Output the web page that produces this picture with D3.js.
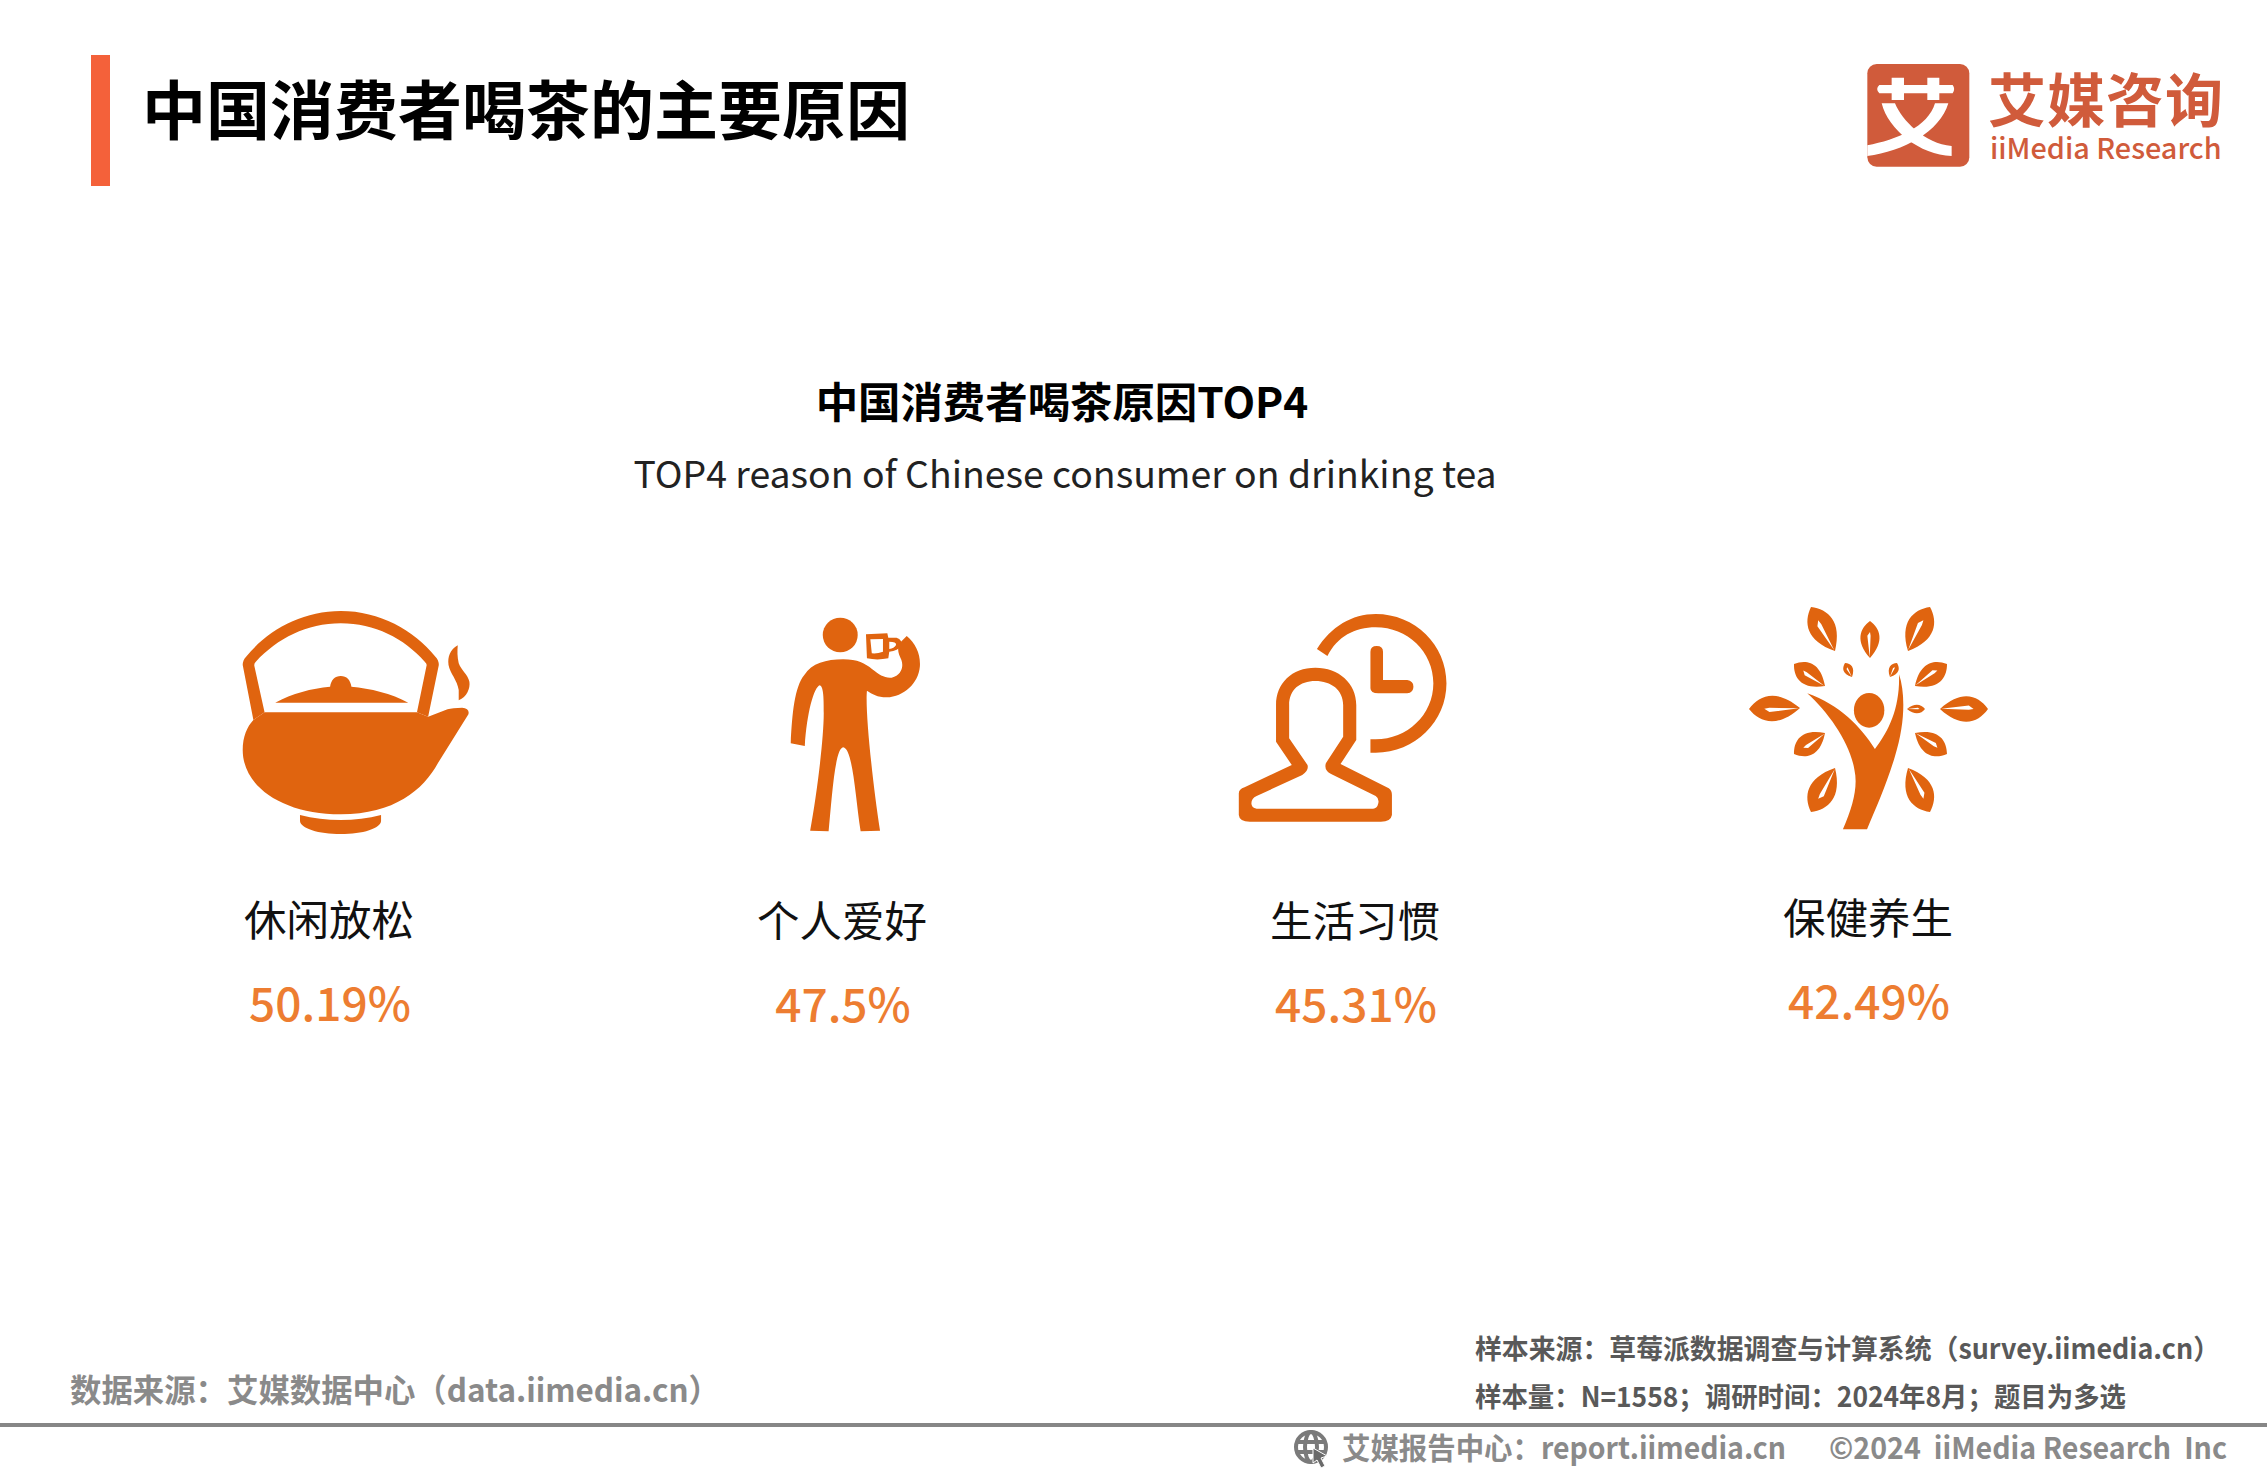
<!DOCTYPE html>
<html>
<head>
    <meta charset="utf-8">
    <title>中国消费者喝茶的主要原因</title>
    <script src="https://cdn.jsdelivr.net/npm/d3@7"></script>
    <style>
        html, body { margin: 0; padding: 0; background: #fff; }
        svg { display: block; }
        text { font-family: "Noto Sans CJK SC", "Noto Sans", sans-serif; white-space: pre; }
    </style>
</head>
<body>
<div id="viz_container"></div>

<script>
    // chart data
    var reasons = ["休闲放松", "个人爱好", "生活习惯", "保健养生"];
    var shares = [50.19, 47.5, 45.31, 42.49];
    var iconNames = ["teapot", "drinker", "clock", "tree"];

    var chartTitle = "中国消费者喝茶的主要原因";
    var subTitle = "中国消费者喝茶原因TOP4";
    var subTitleEn = "TOP4 reason of Chinese consumer on drinking tea";
    var sourceLeft = "数据来源：艾媒数据中心（data.iimedia.cn）";
    var sourceRight = ["样本来源：草莓派数据调查与计算系统（survey.iimedia.cn）", "样本量：N=1558；调研时间：2024年8月；题目为多选"];
    var footerReport = "艾媒报告中心：report.iimedia.cn";
    var footerCopy = "©2024  iiMedia Research  Inc";

    var width = 2267, height = 1474;
    var ICON = "#e0640f", VALUE = "#ed7d31", LOGO = "#d05b3b";

    var svg = d3.select("#viz_container").append("svg")
            .attr("width", width).attr("height", height)
            .attr("viewBox", "0 0 " + width + " " + height);

    var x = d3.scalePoint().domain(reasons).range([329, 1868]);

    // header
    svg.append("rect").attr("x", 91).attr("y", 55).attr("width", 19).attr("height", 131).attr("fill", "#f4613a");
    addText(142, 112, chartTitle, 64, "#000", 700);
    addText(1062, 403, subTitle, 42.4, "#000", 700, "middle");
    addText(1065, 475, subTitleEn, 37.4, "#222", 400, "middle");

    // logo
    var logo = svg.append("g").attr("transform", "translate(1840,40) scale(0.3333)");
    logo.append("rect").attr("x", 82).attr("y", 72).attr("width", 306).attr("height", 308).attr("rx", 28).attr("fill", LOGO);
    logo.append("path").attr("fill", "#fff")
            .attr("d", "M118,135 L155,135 L155,113 L192,113 L192,135 L262,135 L262,113 L298,113 L298,135 L338,135 Q347,147 338,160 L298,160 L298,180 L262,180 L262,160 L192,160 L192,180 L155,180 L155,160 L118,160 Q105,147 118,135 Z"
            + "M125,190 L165,190 C185,240 255,312 335,318 L335,348 C240,345 145,270 125,190 Z"
            + "M285,190 L325,190 C300,275 190,335 82,348 L82,316 C170,300 265,260 285,190 Z");
    addText(1988, 102, "艾媒咨询", 58, LOGO, 700).attr("letter-spacing", "1");
    addText(1990, 149, "iiMedia Research", 28.8, LOGO, 500);

    // icons
    var iconLayer = svg.append("g").attr("fill", ICON).attr("fill-rule", "evenodd");
    var drawIcon = { teapot: drawTeapot, drinker: drawDrinker, clock: drawClock, tree: drawTree };
    iconNames.forEach(function (name) { drawIcon[name](iconLayer); });

    // labels and values
    var labelY = d3.scaleOrdinal().domain(reasons).range([921, 922, 922, 919]);
    svg.selectAll("text.reason").data(reasons).enter().append("text")
            .attr("class", "reason")
            .attr("x", function (d) { return x(d); })
            .attr("y", function (d) { return labelY(d); })
            .attr("dy", "0.35em").attr("text-anchor", "middle")
            .attr("font-size", 42.5).attr("fill", "#111")
            .text(function (d) { return d; });

    svg.selectAll("text.share").data(shares).enter().append("text")
            .attr("class", "share")
            .attr("x", function (d, i) { return x(reasons[i]) + 1; })
            .attr("y", function (d, i) { return labelY(reasons[i]) + 84; })
            .attr("dy", "0.35em").attr("text-anchor", "middle")
            .attr("font-size", 46).attr("font-weight", 500).attr("fill", VALUE)
            .text(function (d) { return d + "%"; });

    // footer, widths follow the narrow text of the original
    addText(70, 1391, sourceLeft, 32, "#8a8a8a", 700).attr("textLength", 650).attr("lengthAdjust", "spacingAndGlyphs");
    addText(1475, 1349, sourceRight[0], 27.5, "#595959", 700).attr("textLength", 745).attr("lengthAdjust", "spacingAndGlyphs");
    addText(1475, 1397, sourceRight[1], 27.5, "#595959", 700).attr("textLength", 651).attr("lengthAdjust", "spacingAndGlyphs");
    svg.append("rect").attr("x", 0).attr("y", 1423).attr("width", width).attr("height", 4).attr("fill", "#868686");
    addText(1342, 1448, footerReport, 30, "#8a8a8a", 700).attr("textLength", 444).attr("lengthAdjust", "spacingAndGlyphs");
    addText(1829, 1448, footerCopy, 30, "#8a8a8a", 700).attr("textLength", 398).attr("lengthAdjust", "spacingAndGlyphs");

    var globe = svg.append("g").attr("transform", "translate(1311,1447)").attr("fill", "none").attr("stroke", "#7a7a7a").attr("stroke-width", 4);
    globe.append("circle").attr("r", 15);
    globe.append("ellipse").attr("rx", 6).attr("ry", 15);
    globe.append("path").attr("d", "M-15,-5 L15,-5 M-15,5 L15,5");
    globe.append("path").attr("d", "M2,1 L16,9 L10,11 L14,19 L10,21 L6,13 L2,16 Z").attr("fill", "#6a6a6a").attr("stroke", "#fff").attr("stroke-width", 1);

    function addText(px, py, str, size, color, weight, anchor) {
        return svg.append("text")
                .attr("x", px).attr("y", py).attr("dy", "0.35em")
                .attr("text-anchor", anchor || "start")
                .attr("font-size", size).attr("font-weight", weight).attr("fill", color)
                .text(str);
    }

    // leaf with a slit, from tip to base, w is the full width
    function leaf(x0, y0, x1, y1, w) {
        var dx = x1 - x0, dy = y1 - y0;
        var len = Math.sqrt(dx * dx + dy * dy);
        var nx = -dy / len * w / 2, ny = dx / len * w / 2;
        var p = function (t, s) { return (x0 + dx * t + nx * s) + "," + (y0 + dy * t + ny * s); };
        return "M" + p(0, 0) + " C" + p(0.2, 0.85) + " " + p(0.55, 1.25) + " " + p(1, 0)
                + " C" + p(0.55, -1.25) + " " + p(0.2, -0.85) + " " + p(0, 0) + " Z"
                + "M" + p(0.98, 0.02) + " L" + p(0.4, 0.22) + " L" + p(0.3, 0) + " L" + p(0.4, -0.05) + " Z";
    }

    function drawTeapot(g) {
        var t = g.append("g").attr("transform", "translate(200,580) scale(0.4854,0.3333)");
        t.append("path").attr("d", "M110,420 L88,255 Q88,240 95,230 C140,150 210,93 290,93 C370,93 440,150 485,230 Q492,240 492,255 L470,410 L447,397 L467,255 Q467,250 463,245 C420,175 360,130 290,130 C220,130 160,175 115,245 Q111,250 112,258 L133,397 Z");
        t.append("path").attr("d", "M133,397 L447,397 L470,410 L510,388 Q520,383 540,383 Q556,385 553,403 L490,550 C460,630 400,703 290,703 C170,703 88,620 88,510 C88,470 97,440 110,420 Z");
        t.append("path").attr("d", "M155,368 C190,340 230,325 268,320 C270,300 278,288 290,288 C302,288 310,300 312,320 C350,325 395,340 429,368 Z");
        t.append("path").attr("d", "M206,705 C260,725 320,725 373,705 L373,722 C373,745 335,762 290,762 C245,762 206,745 206,722 Z");
        t.append("path").attr("d", "M531,196 C515,210 510,230 512,255 C515,280 530,300 533,330 L533,361 C550,350 557,325 555,305 C552,285 538,270 533,250 C530,230 530,215 531,196 Z");
    }

    function drawDrinker(g) {
        var t = g.append("g").attr("transform", "translate(200,580) scale(0.4854,0.3333)");
        t.append("ellipse").attr("cx", 1319).attr("cy", 165).attr("rx", 36).attr("ry", 52);
        t.append("path").attr("d", "M1372,163 L1416,160 L1418,173 L1435,173 Q1448,180 1445,197 Q1438,212 1420,215 L1418,235 Q1395,242 1374,235 Z M1381,178 L1407,177 L1407,215 Q1395,222 1384,220 Z M1420,185 Q1435,185 1434,195 Q1430,205 1420,207 Z");
        t.append("path").attr("d", "M1217,490 C1220,400 1225,320 1245,285 C1260,250 1290,238 1325,238 C1355,238 1370,250 1385,268 C1400,285 1410,295 1425,293 C1445,285 1450,260 1445,240 C1440,225 1435,210 1441,190 L1456,168 C1475,190 1485,225 1483,260 C1480,310 1450,350 1415,352 C1395,352 1385,342 1374,332 C1370,390 1385,600 1401,752 L1361,754 C1350,650 1345,505 1325,502 C1308,505 1302,650 1295,754 L1257,752 C1270,650 1285,480 1285,400 C1285,360 1285,320 1277,316 C1265,320 1250,400 1246,498 Z");
    }

    function drawClock(g) {
        var t = g.append("g").attr("transform", "translate(1200,580) scale(0.5244,0.3333)");
        t.append("path").attr("d", "M145,375 C145,310 175,263 220,263 C265,263 298,310 298,375 L298,480 L268,552 L360,625 Q366,632 366,645 L366,705 Q364,725 345,725 L95,725 Q75,725 74,705 L74,640 Q74,628 85,622 L175,555 L145,485 Z M170,375 C170,330 190,303 220,303 C250,303 273,330 273,375 L273,470 L240,550 Q236,570 250,582 L335,648 Q342,655 340,670 Q338,686 330,686 L108,686 Q98,684 98,670 Q98,655 108,648 L195,585 Q208,572 205,555 L170,475 Z");
        t.append("path").attr("d", "M223,207 C250,140 290,102 335,102 C410,102 470,195 470,310 C470,425 410,518 335,518 L325,518 L325,478 L335,478 C395,478 445,405 445,310 C445,215 395,142 335,142 C295,142 262,170 243,228 Z");
        t.append("path").attr("d", "M325,215 Q325,198 337,198 Q349,198 349,215 L349,300 L395,300 Q407,303 407,320 Q407,338 395,340 L340,340 Q325,340 325,325 Z");
    }

    function drawTree(g) {
        var t = g.append("g").attr("transform", "translate(1200,580) scale(0.5244,0.3333)");
        t.append("ellipse").attr("cx", 1276).attr("cy", 391).attr("rx", 29).attr("ry", 52);
        t.append("path").attr("d", "M1158,340 C1220,375 1260,440 1287,507 C1315,450 1335,380 1333,283 C1345,340 1345,430 1325,530 C1310,610 1290,680 1272,748 L1226,748 C1245,680 1255,620 1248,570 C1240,490 1200,400 1158,340 Z");
        var leaves = [
            [1811, 607, 1835, 651, 33], [1870, 621, 1870, 658, 24], [1930, 607, 1908, 651, 33],
            [1794, 664, 1825, 686, 27], [1845, 663, 1852, 677, 12], [1897, 663, 1890, 677, 12],
            [1947, 664, 1915, 686, 27], [1749, 709, 1800, 708, 32], [1988, 709, 1940, 709, 32],
            [1925, 709, 1907, 709, 11], [1794, 754, 1825, 733, 27], [1947, 754, 1915, 733, 27],
            [1811, 812, 1835, 768, 33], [1930, 812, 1908, 768, 33]
        ];
        g.selectAll("path.leaf").data(leaves).enter().append("path")
                .attr("class", "leaf")
                .attr("d", function (d) { return leaf(d[0], d[1], d[2], d[3], d[4]); });
    }
</script>
</body>
</html>
